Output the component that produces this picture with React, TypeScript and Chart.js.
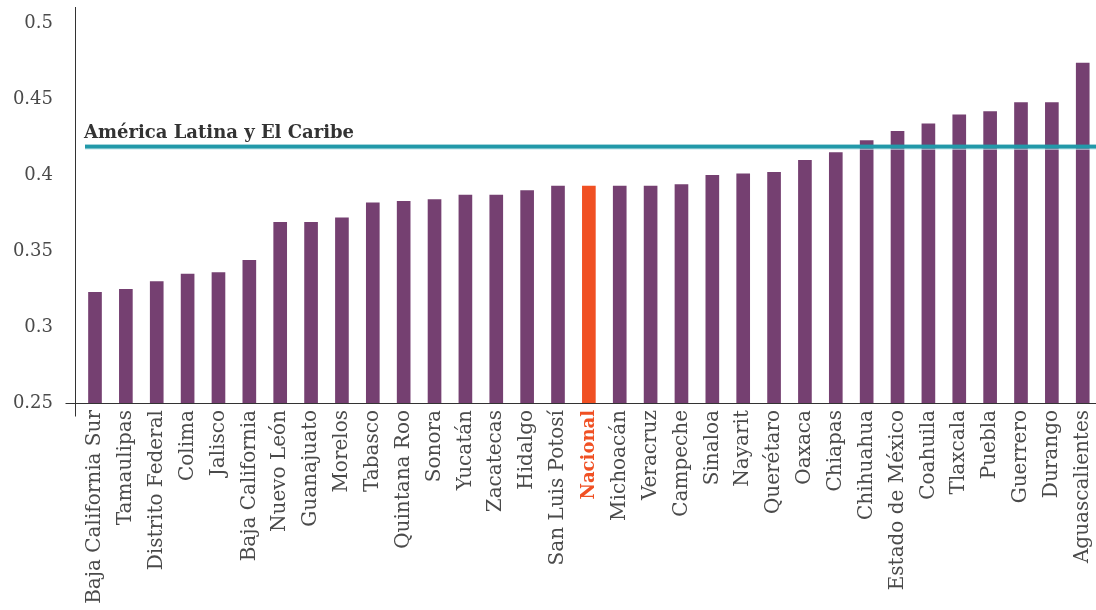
import React, { useEffect, useRef } from "react";
import { Chart, registerables } from "chart.js";

Chart.register(...registerables);

const CATEGORIES: string[] = [
  "Baja California Sur", "Tamaulipas", "Distrito Federal", "Colima", "Jalisco",
  "Baja California", "Nuevo León", "Guanajuato", "Morelos", "Tabasco",
  "Quintana Roo", "Sonora", "Yucatán", "Zacatecas", "Hidalgo",
  "San Luis Potosí", "Nacional", "Michoacán", "Veracruz", "Campeche",
  "Sinaloa", "Nayarit", "Querétaro", "Oaxaca", "Chiapas",
  "Chihuahua", "Estado de México", "Coahuila", "Tlaxcala", "Puebla",
  "Guerrero", "Durango", "Aguascalientes",
];

const VALUES: number[] = [
  0.323, 0.325, 0.330, 0.335, 0.336,
  0.344, 0.369, 0.369, 0.372, 0.382,
  0.383, 0.384, 0.387, 0.387, 0.390,
  0.393, 0.393, 0.393, 0.393, 0.394,
  0.400, 0.401, 0.402, 0.410, 0.415,
  0.423, 0.429, 0.434, 0.440, 0.442,
  0.448, 0.448, 0.474,
];

const HIGHLIGHT = "Nacional";
const LAC_VALUE = 0.419;
const LAC_LABEL = "América Latina y El Caribe";
const Y_TICKS: number[] = [0.25, 0.3, 0.35, 0.4, 0.45, 0.5];

const BAR_COLOR = "#754071";
const HIGHLIGHT_COLOR = "#F05023";
const LINE_COLOR = "#2299A9";
const AXIS_COLOR = "#333333";
const TEXT_COLOR = "#4a4a4a";
const FONT = "'DejaVu Serif', serif";

const overlayPlugin = {
  id: "overlay",
  afterDatasetsDraw(chart: any) {
    const { ctx, chartArea, scales } = chart;
    const y = scales.y.getPixelForValue(LAC_VALUE);
    const x0 = chartArea.left + 10;
    ctx.save();
    ctx.fillStyle = "#c8e8ec";
    ctx.fillRect(x0, y + 2, chartArea.right - x0, 1);
    ctx.fillStyle = LINE_COLOR;
    ctx.fillRect(x0, y - 2, chartArea.right - x0, 4);
    ctx.fillStyle = "#333333";
    ctx.font = `bold 18px ${FONT}`;
    ctx.textBaseline = "alphabetic";
    ctx.textAlign = "left";
    ctx.fillText(LAC_LABEL, x0 - 1, y - 9);
    ctx.strokeStyle = AXIS_COLOR;
    ctx.lineWidth = 1;
    const bx = Math.round(chartArea.left) + 0.5;
    const by = Math.round(chartArea.bottom) + 0.5;
    ctx.beginPath();
    ctx.moveTo(bx - 10, by);
    ctx.lineTo(bx, by);
    ctx.moveTo(bx, by);
    ctx.lineTo(bx, by + 13);
    ctx.stroke();
    ctx.restore();
  },
};

export default function App() {
  const canvasRef = useRef<HTMLCanvasElement | null>(null);

  useEffect(() => {
    document.body.style.margin = "0";
    const canvas = canvasRef.current;
    if (!canvas) return;
    const chart = new Chart(canvas, {
      type: "bar",
      data: {
        datasets: [
          {
            data: VALUES.map((v, i) => ({ x: i, y: v })),
            backgroundColor: CATEGORIES.map((c) => (c === HIGHLIGHT ? HIGHLIGHT_COLOR : BAR_COLOR)),
            barThickness: 13,
            borderWidth: 0,
          },
        ],
      },
      options: {
        animation: false,
        responsive: false,
        maintainAspectRatio: false,
        layout: { padding: { top: 7, right: 0, left: 0, bottom: 0 }, autoPadding: false },
        plugins: {
          legend: { display: false },
          tooltip: { enabled: false },
          title: { display: false },
        },
        scales: {
          x: {
            type: "linear",
            offset: false,
            min: -0.648,
            max: 32.43,
            grid: { display: false, drawTicks: false, offset: false },
            border: { display: true, color: AXIS_COLOR, width: 1 },
            afterBuildTicks: (scale: any) => {
              scale.ticks = CATEGORIES.map((_, i) => ({ value: i }));
            },
            afterFit: (scale: any) => {
              scale.height = 207;
              scale.paddingLeft = 0;
              scale.paddingRight = 0;
            },
            ticks: {
              autoSkip: false,
              minRotation: 90,
              maxRotation: 90,
              padding: 7,
              callback: (v: any) => CATEGORIES[Math.round(Number(v))] ?? "",
              color: (ctx: any) =>
                CATEGORIES[ctx.index] === HIGHLIGHT ? HIGHLIGHT_COLOR : TEXT_COLOR,
              font: (ctx: any) =>
                CATEGORIES[ctx.index] === HIGHLIGHT
                  ? { family: FONT, size: 18, weight: "bold" }
                  : { family: FONT, size: 20, weight: "normal" },
            },
          },
          y: {
            type: "linear",
            min: 0.25,
            max: 0.511,
            grid: { display: false, drawTicks: false },
            border: { display: true, color: AXIS_COLOR, width: 1 },
            afterBuildTicks: (scale: any) => {
              scale.ticks = Y_TICKS.map((v) => ({ value: v }));
            },
            afterFit: (scale: any) => {
              scale.width = 75;
              scale.paddingTop = 0;
              scale.paddingBottom = 0;
            },
            ticks: {
              padding: 22,
              color: TEXT_COLOR,
              font: { family: FONT, size: 18 },
              callback: (v: any) => String(Number(v)),
            },
          },
        },
      },
      plugins: [overlayPlugin],
    });
    return () => chart.destroy();
  }, []);

  return (
    <div style={{ width: 1096, height: 610, position: "relative", background: "#ffffff" }}>
      <canvas ref={canvasRef} width={1096} height={610} style={{ display: "block" }} />
    </div>
  );
}
